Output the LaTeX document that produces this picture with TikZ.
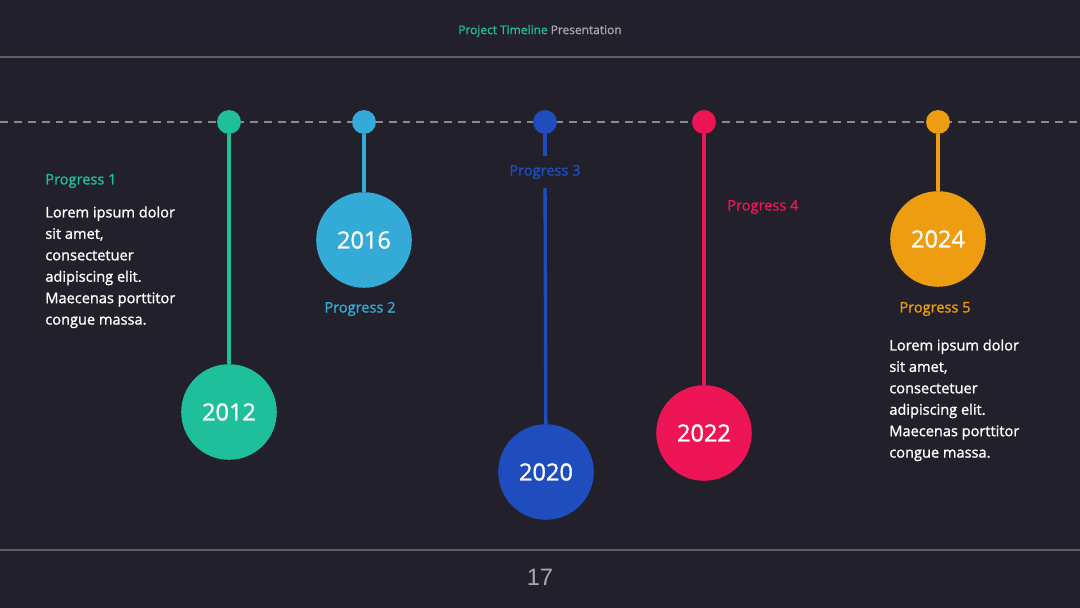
\documentclass[tikz,border=0pt]{standalone}
\usepackage{fontspec}
\setmainfont{Open Sans}
\newfontfamily\semifont[FakeBold=1.2]{Open Sans}
\newfontfamily\numfont{Liberation Sans}
\usetikzlibrary{positioning}

\definecolor{bgDark}{HTML}{22212B}
\definecolor{ruleGrey}{HTML}{5E5D66}
\definecolor{dashGrey}{HTML}{8A8990}
\definecolor{txtGrey}{HTML}{A9A8B0}
\definecolor{tlGreen}{HTML}{1FBF9C}
\definecolor{tlSky}{HTML}{34AAD7}
\definecolor{tlBlue}{HTML}{1F4DBD}
\definecolor{tlPink}{HTML}{EE1556}
\definecolor{tlOrange}{HTML}{EE9C10}

\begin{document}
\begin{tikzpicture}[x=0.02cm,y=-0.02cm,
                    dot/.style={circle,fill=#1,minimum size=13.6pt,inner sep=0pt},
                    year/.style={circle,fill=#1,minimum size=54.4pt,inner sep=0pt,
                                 text=white,font=\semifont\fontsize{13.4}{14}\selectfont},
                    stem/.style={draw=#1,line width=1.9pt},
                    tag/.style={text=#1,inner sep=0pt,font=\semifont\fontsize{8.3}{10}\selectfont},
                    body/.style={text=white,inner sep=0pt,align=left,
                                 font=\semifont\fontsize{8.3}{12.2}\selectfont}]
   \useasboundingbox[fill=bgDark] (0,0) rectangle (1080,608);

   % header and footer
   \node (title) at (540,31) {\semifont\fontsize{6.8}{8}\selectfont
          \textcolor{tlGreen}{Project Timeline} \textcolor{txtGrey}{Presentation}};
   \node[text=txtGrey,font=\numfont\fontsize{13.5}{15}\selectfont] (page) at (540,577) {17};
   \coordinate (topL) at (0,57);    \coordinate (topR) at (1080,57);
   \coordinate (botL) at (0,550);   \coordinate (botR) at (1080,550);
   \draw[ruleGrey,line width=0.6pt] (topL) -- (topR);
   \draw[ruleGrey,line width=0.9pt] (botL) -- (botR);

   % time axis
   \coordinate (axisL) at (0,122);  \coordinate (axisR) at (1080,122);
   \draw[dashGrey,line width=0.8pt,dash pattern=on 4.5pt off 3.4pt] (axisL) -- (axisR);

   % markers
   \node[dot=tlGreen]  (d1) at (229,122) {};
   \node[dot=tlSky]    (d2) at (364,122) {};
   \node[dot=tlBlue]   (d3) at (545,122) {};
   \node[dot=tlPink]   (d4) at (704,122) {};
   \node[dot=tlOrange] (d5) at (938,122) {};

   % years
   \node[year=tlGreen]  (y1) at (229,412) {2012};
   \node[year=tlSky]    (y2) at (364,240) {2016};
   \node[year=tlBlue]   (y3) at (546,472) {2020};
   \node[year=tlPink]   (y4) at (704,433) {2022};
   \node[year=tlOrange] (y5) at (938,239) {2024};

   % labels
   \node[tag=tlGreen,anchor=west]  (p1) at (45,181)  {Progress 1};
   \node[tag=tlSky]                (p2) at (360,309) {Progress 2};
   \node[tag=tlBlue,minimum height=18pt] (p3) at (545,172) {Progress 3};
   \node[tag=tlPink,anchor=west]   (p4) at (727,207) {Progress 4};
   \node[tag=tlOrange]             (p5) at (935,309) {Progress 5};

   \node[body,anchor=north west] (t1) at (45,206)
        {Lorem ipsum dolor\\sit amet,\\consectetuer\\adipiscing elit.\\Maecenas porttitor\\congue massa.};
   \node[body,anchor=north west] (t5) at (889,339)
        {Lorem ipsum dolor\\sit amet,\\consectetuer\\adipiscing elit.\\Maecenas porttitor\\congue massa.};

   % stems
   \draw[stem=tlGreen]  (d1) -- (y1);
   \draw[stem=tlSky]    (d2) -- (y2);
   \draw[stem=tlBlue]   (d3) -- (p3);
   \draw[stem=tlBlue]   (p3) -- (y3);
   \draw[stem=tlPink]   (d4) -- (y4);
   \draw[stem=tlOrange] (d5) -- (y5);
\end{tikzpicture}
\end{document}
